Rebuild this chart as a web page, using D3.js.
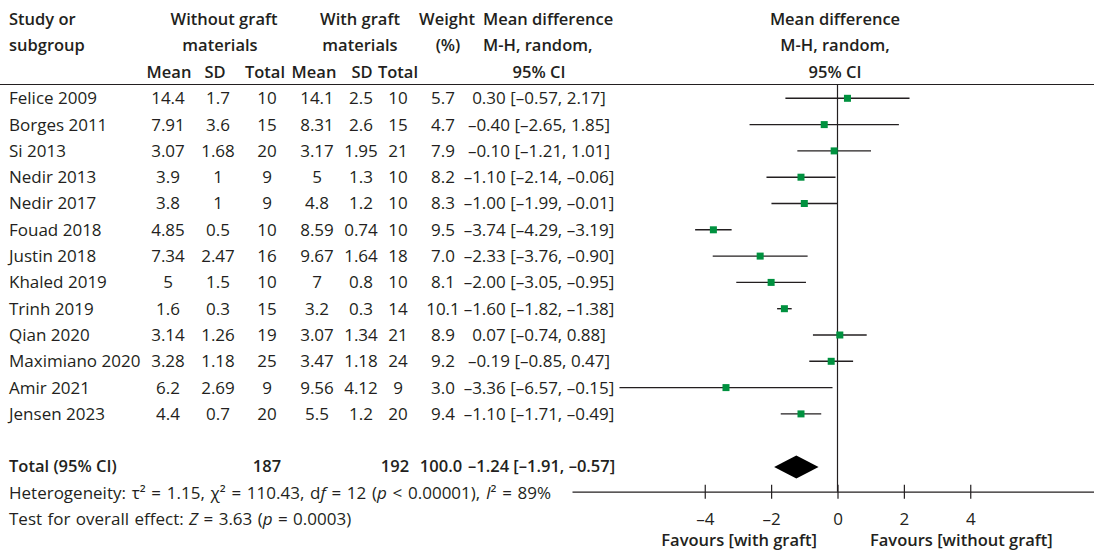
<!DOCTYPE html>
<meta charset="utf-8">
<script src="https://d3js.org/d3.v7.min.js"></script>
<style>
  body { margin: 0; background: #fff; }
  svg { font-family: "Open Sans", sans-serif; font-size: 17px; }
  text { fill: #231f20; }
  .hd { font-weight: 600; font-size: 16.5px; }
</style>
<body></body>
<script>
  // table data
  var studies = ["Felice 2009", "Borges 2011", "Si 2013", "Nedir 2013", "Nedir 2017", "Fouad 2018",
    "Justin 2018", "Khaled 2019", "Trinh 2019", "Qian 2020", "Maximiano 2020", "Amir 2021", "Jensen 2023"];
  var meanWithout = [14.4, 7.91, 3.07, 3.9, 3.8, 4.85, 7.34, 5, 1.6, 3.14, 3.28, 6.2, 4.4];
  var sdWithout   = [1.7, 3.6, 1.68, 1, 1, 0.5, 2.47, 1.5, 0.3, 1.26, 1.18, 2.69, 0.7];
  var nWithout    = [10, 15, 20, 9, 9, 10, 16, 10, 15, 19, 25, 9, 20];
  var meanWith    = [14.1, 8.31, 3.17, 5, 4.8, 8.59, 9.67, 7, 3.2, 3.07, 3.47, 9.56, 5.5];
  var sdWith      = [2.5, 2.6, 1.95, 1.3, 1.2, 0.74, 1.64, 0.8, 0.3, 1.34, 1.18, 4.12, 1.2];
  var nWith       = [10, 15, 21, 10, 10, 10, 18, 10, 14, 21, 24, 9, 20];
  var weight      = [5.7, 4.7, 7.9, 8.2, 8.3, 9.5, 7.0, 8.1, 10.1, 8.9, 9.2, 3.0, 9.4];
  var md          = [0.30, -0.40, -0.10, -1.10, -1.00, -3.74, -2.33, -2.00, -1.60, 0.07, -0.19, -3.36, -1.10];
  var ciLow       = [-0.57, -2.65, -1.21, -2.14, -1.99, -4.29, -3.76, -3.05, -1.82, -0.74, -0.85, -6.57, -1.71];
  var ciHigh      = [2.17, 1.85, 1.01, -0.06, -0.01, -3.19, -0.90, -0.95, -1.38, 0.88, 0.47, -0.15, -0.49];
  // in the figure Felice's whisker is drawn to -1.57, not the printed -0.57
  var plotLow = ciLow.slice();
  plotLow[0] = -1.57;

  var total = {nWithout: 187, nWith: 192, weight: 100.0, md: -1.24, lo: -1.91, hi: -0.57};
  var ticks = [-4, -2, 0, 2, 4];

  var width = 1094, height = 554;
  var svg = d3.select("body").append("svg")
    .attr("width", width).attr("height", height);

  // scales
  var x = d3.scaleLinear().domain([-8, 8]).range([572, 1103]);
  var row = d3.scaleLinear().domain([0, 1]).range([98.3, 124.6]); // row index -> y

  function fmt(v, d) { return (v < 0 ? "\u2013" : "") + Math.abs(v).toFixed(d); }
  function mdText(m, lo, hi) { return fmt(m, 2) + " [" + fmt(lo, 2) + ", " + fmt(hi, 2) + "]"; }

  function put(txt, xx, r, anchor, cls) {
    return svg.append("text")
      .attr("x", xx).attr("y", row(r)).attr("dy", "0.35em")
      .attr("text-anchor", anchor || "middle")
      .attr("class", cls || null)
      .text(txt);
  }

  // header
  put("Study or", 9, -3, "start", "hd");
  put("subgroup", 9, -2, "start", "hd");
  put("Without graft", 224, -3, "middle", "hd");
  put("materials", 220, -2, "middle", "hd");
  put("With graft", 360, -3, "middle", "hd");
  put("materials", 360, -2, "middle", "hd");
  put("Weight", 447, -3, "middle", "hd");
  put("(%)", 448, -2, "middle", "hd");
  put("Mean difference", 483, -3, "start", "hd");
  put("M-H, random,", 483, -2, "start", "hd");
  put("95% CI", 539, -1, "middle", "hd");
  put("Mean difference", 835, -3, "middle", "hd");
  put("M-H, random,", 835, -2, "middle", "hd");
  put("95% CI", 835, -1, "middle", "hd");
  [["Mean", 169], ["SD", 215], ["Total", 265], ["Mean", 314], ["SD", 362], ["Total", 398]]
    .forEach(function(h) { put(h[0], h[1], -1, "middle", "hd"); });

  svg.append("line")
    .attr("x1", 0).attr("x2", width)
    .attr("y1", 84.5).attr("y2", 84.5)
    .attr("stroke", "#231f20").attr("stroke-width", 1.2);

  // study rows
  studies.forEach(function(s, i) {
    put(s, 9, i, "start");
    put(String(meanWithout[i]), 168, i);
    put(String(sdWithout[i]), 218, i);
    put(String(nWithout[i]), 267, i);
    put(String(meanWith[i]), 317, i);
    put(String(sdWith[i]), 361, i);
    put(String(nWith[i]), 398, i);
    put(weight[i].toFixed(1), 443, i);
    put(mdText(md[i], ciLow[i], ciHigh[i]), 539, i);
  });

  // totals
  put("Total (95% CI)", 9, 14, "start", "hd");
  put(String(total.nWithout), 267, 14, "middle", "hd");
  put(String(total.nWith), 395, 14, "middle", "hd");
  put(total.weight.toFixed(1), 441, 14, "middle", "hd");
  put(mdText(total.md, total.lo, total.hi), 468, 14, "start", "hd");

  var het = put("", 9, 15, "start").attr("word-spacing", "1.3px");
  het.append("tspan").text("Heterogeneity: \u03c4\u00b2 = 1.15, \u03c7\u00b2 = 110.43, d");
  het.append("tspan").attr("font-style", "italic").text("f");
  het.append("tspan").text(" = 12 (");
  het.append("tspan").attr("font-style", "italic").text("p");
  het.append("tspan").text(" < 0.00001), ");
  het.append("tspan").attr("font-style", "italic").text("I");
  het.append("tspan").text("\u00b2 = 89%");

  var test = put("", 9, 16, "start").attr("word-spacing", "1px");
  test.append("tspan").text("Test for overall effect: ");
  test.append("tspan").attr("font-style", "italic").text("Z");
  test.append("tspan").text(" = 3.63 (");
  test.append("tspan").attr("font-style", "italic").text("p");
  test.append("tspan").text(" = 0.0003)");

  // forest plot
  var axisY = 491.7;
  svg.append("line")
    .attr("x1", x(0)).attr("x2", x(0))
    .attr("y1", 84.5).attr("y2", axisY)
    .attr("stroke", "#231f20").attr("stroke-width", 1.2);

  var g = svg.append("g");
  g.selectAll("line.ci").data(studies).enter().append("line")
    .attr("class", "ci")
    .attr("x1", function(d, i) { return x(plotLow[i]); })
    .attr("x2", function(d, i) { return x(ciHigh[i]); })
    .attr("y1", function(d, i) { return row(i); })
    .attr("y2", function(d, i) { return row(i); })
    .attr("stroke", "#231f20").attr("stroke-width", 1.4);

  var sq = 7;
  g.selectAll("rect").data(studies).enter().append("rect")
    .attr("x", function(d, i) { return x(md[i]) - sq / 2; })
    .attr("y", function(d, i) { return row(i) - sq / 2; })
    .attr("width", sq).attr("height", sq)
    .attr("fill", "#00913f");

  var ty = row(14) + 0.5;
  svg.append("path")
    .attr("d", "M" + x(total.lo) + "," + ty +
      "L" + x(total.md) + "," + (ty - 11.5) +
      "L" + x(total.hi) + "," + ty +
      "L" + x(total.md) + "," + (ty + 11.5) + "Z")
    .attr("fill", "#000");

  // axis
  var axis = svg.append("g")
    .attr("transform", "translate(0," + axisY + ")")
    .call(d3.axisBottom(x).tickValues(ticks).tickSizeOuter(0)
      .tickFormat(function(d) { return d < 0 ? "\u2013" + Math.abs(d) : d; }));
  axis.select(".domain").attr("stroke", "#231f20").attr("stroke-width", 1.2);
  axis.selectAll(".tick line").attr("y1", -7).attr("y2", 7)
    .attr("stroke", "#231f20").attr("stroke-width", 1.2);
  axis.selectAll(".tick text")
    .attr("y", row(16) - axisY).attr("dy", "0.35em")
    .attr("font-family", "Open Sans, sans-serif").attr("font-size", 17)
    .attr("fill", "#231f20");

  svg.append("text").attr("class", "hd")
    .attr("x", 817).attr("y", 540).attr("dy", "0.35em")
    .attr("text-anchor", "end").text("Favours [with graft]");
  svg.append("text").attr("class", "hd")
    .attr("x", 870).attr("y", 540).attr("dy", "0.35em")
    .attr("text-anchor", "start").text("Favours [without graft]");
</script>
